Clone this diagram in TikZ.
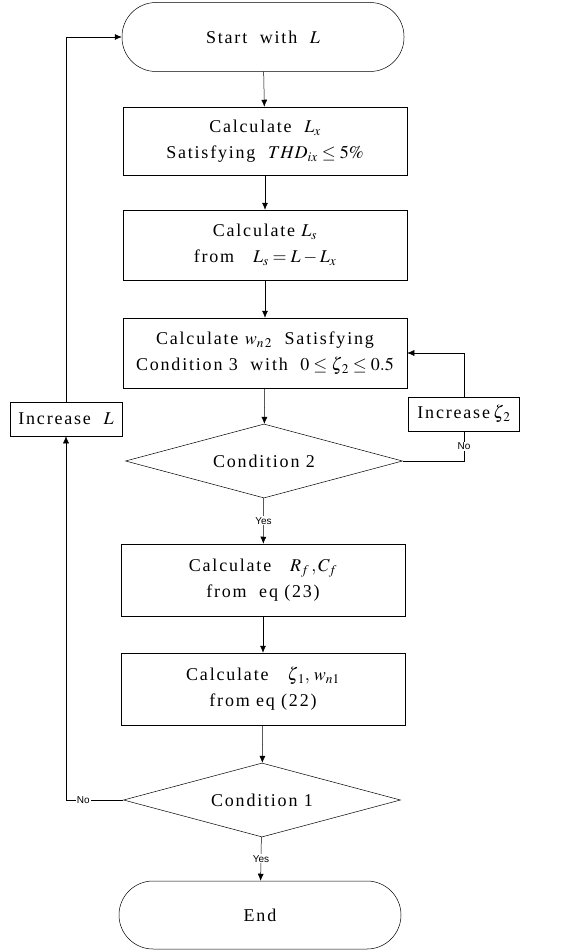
\documentclass[tikz,border=0pt]{standalone}
\usepackage{mathptmx}
\usepackage{fontspec}
\setmainfont{Liberation Serif}[LetterSpace=10]
\setsansfont{Liberation Sans}
\usepackage{tikz}
\usetikzlibrary{arrows.meta,shapes.geometric}

\tikzset{
  proc/.style={draw,rectangle,minimum width=284pt,minimum height=70pt,align=center,
    font=\fontsize{18}{26}\selectfont},
  term/.style={draw,rectangle,rounded corners=34pt,minimum width=282pt,minimum height=69pt,
    font=\fontsize{18}{26}\selectfont},
  cond/.style={draw,diamond,aspect=3.75,minimum width=277pt,minimum height=74pt,inner sep=0pt,
    font=\fontsize{18}{26}\selectfont},
  side/.style={draw,rectangle,minimum height=34pt,inner sep=3pt,font=\fontsize{18}{26}\selectfont},
  lbl/.style={fill=white,inner sep=1pt,font=\sffamily\fontsize{10}{12}\selectfont},
}

\begin{document}
\begin{tikzpicture}[x=1pt,y=-1pt,line width=0.5pt,>={Latex[length=7pt,width=6pt]}]
  \useasboundingbox (0,0) rectangle (587,950);
  % main column
  \node[term] (start) at (263,37) {Start\ \ with\ \ $L$};
  \node[proc,minimum height=68pt] (calcx) at (265,141) {Calculate\ \ $L_x$\\Satisfying\ \ $THD_{ix}\le 5\%$};
  \node[proc] (calcs) at (265,245) {Calculate\ $L_s$\\from\ \ \ $L_s=L-L_x$};
  \node[proc] (calcw) at (265,353) {Calculate\ $w_{n\,2}$\ \ Satisfying\\Condition\ 3\ \ with\ \ $0\le\zeta_{\,2}\le 0.5$};
  \node[cond] (cond2) at (264,461) {Condition 2};
  \node[proc,minimum height=72pt] (calcrc) at (263,580) {Calculate\ \ \ $R_f\,,C_f$\\from\ \ eq (23)};
  \node[proc,minimum height=72pt] (calczw) at (263,689) {Calculate\ \ \ $\zeta_{\,1},\,w_{n1}$\\from eq (22)};
  \node[cond] (cond1) at (262,800) {Condition 1};
  \node[term,minimum height=68pt] (finish) at (260,915) {End};
  % side boxes
  \node[side,minimum width=112pt] (incl) at (66,419) {Increase\ \ $L$};
  \node[side,minimum width=111pt] (incz) at (464,414) {Increase\,$\zeta_{\,2}$};

  \draw[->] (start) -- (calcx);
  \draw[->] (calcx) -- (calcs);
  \draw[->] (calcs) -- (calcw);
  \draw[->] (calcw) -- (cond2);
  \draw[->] (cond2) -- node[lbl]{Yes} (calcrc);
  \draw[->] (calcrc) -- (calczw);
  \draw[->] (calczw) -- (cond1);
  \draw[->] (cond1) -- node[lbl]{Yes} (finish);
  % loops
  \draw (cond2.east) -| node[lbl,pos=0.75]{No} (incz.south);
  \draw[->] (incz.north) |- (calcw.east);
  \draw[->] (cond1.west) -| node[lbl,pos=0.35]{No} (incl.south);
  \draw[->] (incl.north) |- (start.west);
\end{tikzpicture}
\end{document}
